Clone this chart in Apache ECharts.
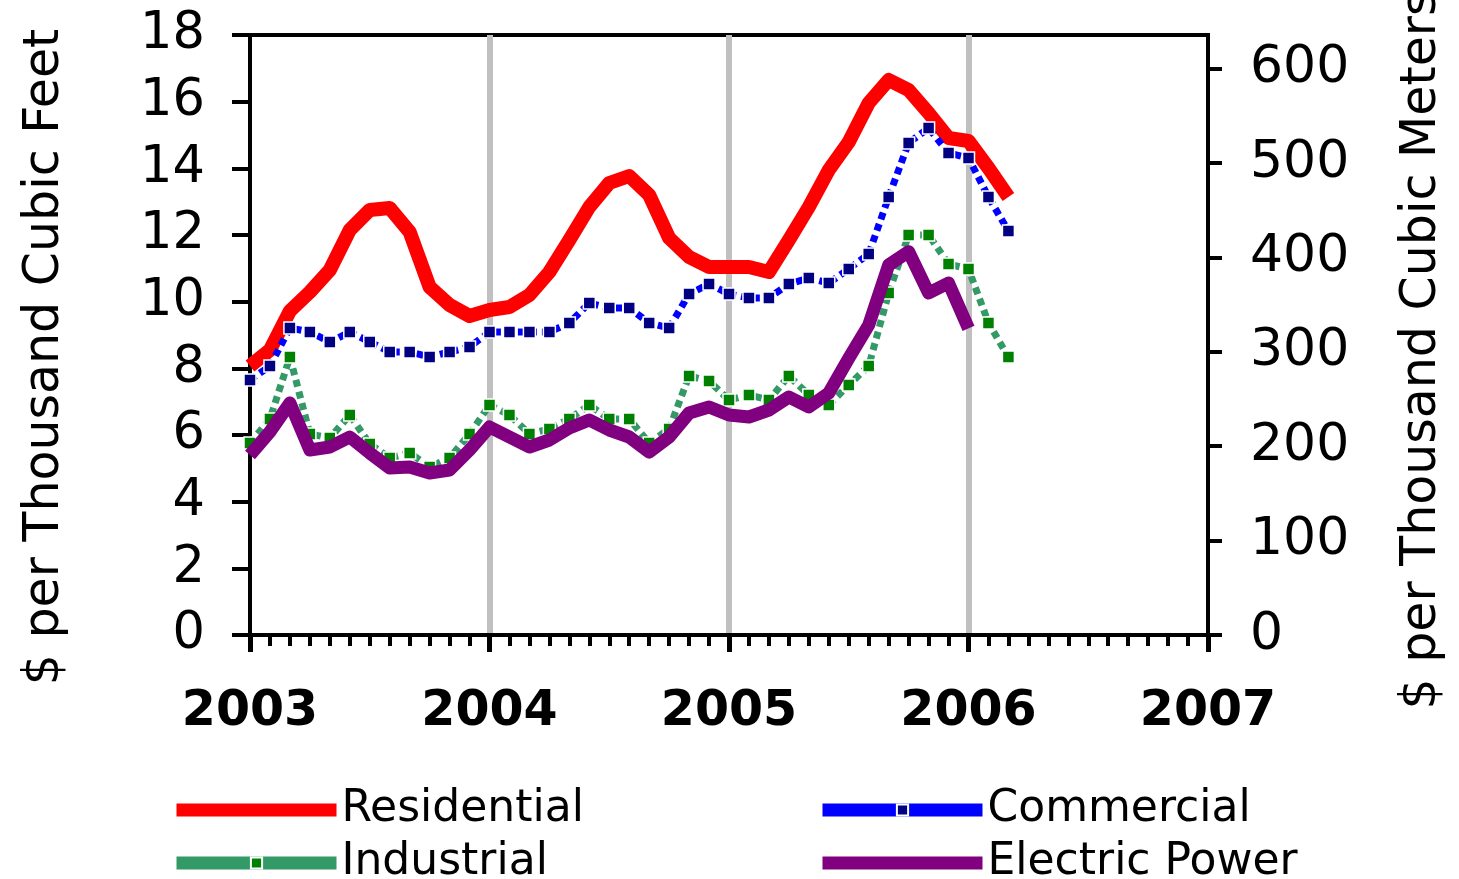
<!DOCTYPE html>
<html>
<head>
<meta charset="utf-8">
<script src="https://cdn.jsdelivr.net/npm/echarts@6/dist/echarts.min.js"></script>
<style>
html,body{margin:0;padding:0;background:#fff;}
#chart{width:1459px;height:879px;}
</style>
</head>
<body>
<div id="chart"></div>
<script>
// ---- data (monthly, Jan 2003 onward), $ per thousand cubic feet ----
const yearLabels = ['2003', '2004', '2005', '2006', '2007'];
const leftTicks = [0, 2, 4, 6, 8, 10, 12, 14, 16, 18];
const rightTicks = [0, 100, 200, 300, 400, 500, 600];
const seriesNames = ['Residential', 'Commercial', 'Industrial', 'Electric Power'];

const residential = [8.07, 8.55, 9.72, 10.29, 10.95, 12.15, 12.75, 12.81, 12.09, 10.44,
  9.9, 9.57, 9.75, 9.84, 10.2, 10.89, 11.85, 12.84, 13.56, 13.77,
  13.2, 11.91, 11.34, 11.04, 11.04, 11.04, 10.89, 11.85, 12.84, 13.95,
  14.79, 15.96, 16.65, 16.35, 15.66, 14.91, 14.82, 14.01, 13.14];
const commercial = [7.65, 8.07, 9.21, 9.09, 8.79, 9.09, 8.79, 8.49, 8.49, 8.34,
  8.49, 8.64, 9.09, 9.09, 9.09, 9.09, 9.36, 9.96, 9.81, 9.81,
  9.36, 9.21, 10.23, 10.53, 10.23, 10.11, 10.11, 10.53, 10.71, 10.56,
  10.98, 11.43, 13.14, 14.76, 15.21, 14.46, 14.31, 13.14, 12.12];
const industrial = [5.76, 6.48, 8.34, 6.03, 5.91, 6.6, 5.73, 5.31, 5.46, 5.04,
  5.31, 6.03, 6.9, 6.6, 6.03, 6.18, 6.48, 6.9, 6.48, 6.48,
  5.76, 6.18, 7.77, 7.62, 7.05, 7.2, 7.05, 7.77, 7.2, 6.9,
  7.5, 8.07, 10.26, 12.0, 12.0, 11.13, 10.98, 9.36, 8.34];
const electricPower = [5.4, 6.1, 6.96, 5.55, 5.64, 5.94, 5.46, 5.01, 5.04, 4.86,
  4.95, 5.55, 6.24, 5.94, 5.64, 5.85, 6.21, 6.45, 6.15, 5.94,
  5.49, 5.94, 6.66, 6.84, 6.6, 6.54, 6.75, 7.14, 6.84, 7.26,
  8.3, 9.3, 11.1, 11.5, 10.26, 10.56, 9.2];

const M3_PER_MCF = 35.315;
const FONT = '"DejaVu Sans", "Liberation Sans", sans-serif';
const pairs = arr => arr.map((v, i) => [i, v]);

const chart = echarts.init(document.getElementById('chart'), null, {renderer: 'canvas'});

function legendItem(name, left, top) {
  return {
    data: [name], left: left, top: top, padding: 0, orient: 'horizontal',
    itemWidth: 160, itemHeight: 14,
    textStyle: {color: '#000', fontFamily: FONT, fontSize: 44},
    lineStyle: {width: 13, type: 'solid', cap: 'butt'},
    selectedMode: false
  };
}

const option = {
  backgroundColor: '#fff',
  animation: false,
  grid: {left: 250, right: 251, top: 35, bottom: 244, show: true, borderColor: '#000', borderWidth: 4, backgroundColor: 'transparent'},
  xAxis: {
    type: 'value', min: 0, max: 48, interval: 12,
    axisLine: {show: true, onZero: false, lineStyle: {color: '#000', width: 4}},
    axisTick: {show: true, length: 17, lineStyle: {color: '#000', width: 5}},
    minorTick: {show: true, splitNumber: 12, length: 11, lineStyle: {color: '#000', width: 4}},
    splitLine: {show: true, showMinLine: false, showMaxLine: false, lineStyle: {color: '#c0c0c0', width: 6}},
    axisLabel: {
      margin: 53, color: '#000', fontFamily: FONT, fontSize: 49, fontWeight: 'bold',
      formatter: v => yearLabels[Math.round(v / 12)] || ''
    }
  },
  yAxis: [
    {
      type: 'value', min: leftTicks[0], max: leftTicks[leftTicks.length - 1], interval: 2, position: 'left',
      axisLine: {show: true, lineStyle: {color: '#000', width: 4}},
      axisTick: {show: true, length: 18, lineStyle: {color: '#000', width: 4}},
      splitLine: {show: false},
      axisLabel: {margin: 45, color: '#000', fontFamily: FONT, fontSize: 51}
    },
    {
      type: 'value', min: 0, max: 18 * M3_PER_MCF, position: 'right',
      axisLine: {show: true, lineStyle: {color: '#000', width: 4}},
      axisTick: {show: true, length: 14, customValues: rightTicks, lineStyle: {color: '#000', width: 4}},
      axisLabel: {margin: 42, customValues: rightTicks, color: '#000', fontFamily: FONT, fontSize: 52},
      splitLine: {show: false}
    }
  ],
  legend: [
    legendItem('Residential', 170, 788),
    legendItem('Commercial', 816, 788),
    legendItem('Industrial', 170, 841),
    legendItem('Electric Power', 816, 841)
  ],
  graphic: [
    {type: 'text', x: 45, y: 357, rotation: Math.PI / 2, silent: true,
      style: {text: '$ per Thousand Cubic Feet', fontFamily: FONT, fontSize: 49, fill: '#000',
        align: 'center', verticalAlign: 'middle', textAlign: 'center', textVerticalAlign: 'middle'}},
    {type: 'text', x: 1422, y: 350, rotation: Math.PI / 2, silent: true,
      style: {text: '$ per Thousand Cubic Meters', fontFamily: FONT, fontSize: 49, fill: '#000',
        align: 'center', verticalAlign: 'middle', textAlign: 'center', textVerticalAlign: 'middle'}}
  ],
  series: [
    {
      name: seriesNames[0], type: 'line', data: pairs(residential), yAxisIndex: 0,
      symbol: 'none', lineStyle: {color: '#ff0000', width: 14, join: 'round', cap: 'butt'},
      itemStyle: {color: '#ff0000'}, z: 2
    },
    {
      name: seriesNames[1], type: 'line', data: pairs(commercial), yAxisIndex: 0,
      symbol: 'rect', symbolSize: 12, showSymbol: true,
      lineStyle: {color: '#0000ff', width: 7, type: [7, 5]},
      itemStyle: {color: '#000080', borderColor: '#fff', borderWidth: 1.5}, z: 3
    },
    {
      name: seriesNames[2], type: 'line', data: pairs(industrial), yAxisIndex: 0,
      symbol: 'rect', symbolSize: 12, showSymbol: true,
      lineStyle: {color: '#339966', width: 7, type: [7, 5]},
      itemStyle: {color: '#008000', borderColor: '#fff', borderWidth: 1.5}, z: 4
    },
    {
      name: seriesNames[3], type: 'line', data: pairs(electricPower), yAxisIndex: 0,
      symbol: 'none', lineStyle: {color: '#800080', width: 13, join: 'round', cap: 'butt'},
      itemStyle: {color: '#800080'}, z: 5
    }
  ]
};
chart.setOption(option);
</script>
</body>
</html>
